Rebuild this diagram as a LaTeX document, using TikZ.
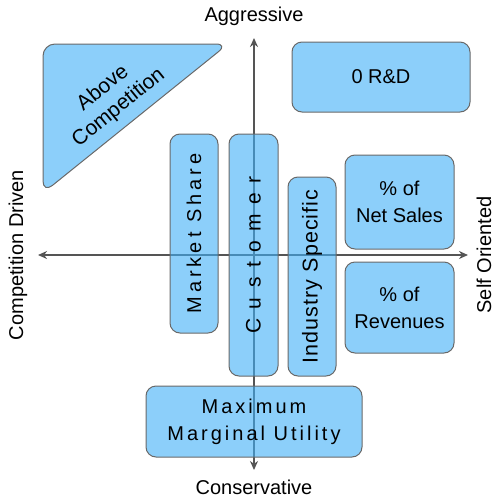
\documentclass[tikz,border=0pt]{standalone}
\usepackage{fontspec}
\setmainfont{Liberation Sans}
\newfontfamily\trackfont[LetterSpace=15]{Liberation Sans}
\newfontfamily\sharefont[LetterSpace=20]{Liberation Sans}
\newfontfamily\indfont[LetterSpace=5]{Liberation Sans}
\newfontfamily\widefont[LetterSpace=45]{Liberation Sans}
\usepackage{tikz}
\usetikzlibrary{arrows.meta}

\definecolor{boxblue}{RGB}{63,175,247}
\definecolor{axisgray}{RGB}{85,85,85}
\definecolor{edgegray}{RGB}{105,105,105}

\tikzset{
  box/.style = {draw = edgegray, line width = 1pt, fill = boxblue, fill opacity = 0.6, text opacity = 1,
                rounded corners = 10pt, inner sep = 0pt, align = center, font = \fontsize{20}{27}\selectfont},
  axis/.style = {draw = axisgray, line width = 1.8pt, {Stealth[length=9pt,width=8pt]}-{Stealth[length=9pt,width=8pt]}},
  axislabel/.style = {font = \fontsize{20}{24}\selectfont, inner sep = 0pt}
}

\begin{document}
\begin{tikzpicture}[x = 1pt, y = -1pt]
				\useasboundingbox (0,0) rectangle (495,499);
				% axes
				\coordinate (top) at (254,38);
				\coordinate (bottom) at (254,470);
				\coordinate (left) at (38,255);
				\coordinate (right) at (468,255);
				\draw [axis] (bottom) -- (top);
				\draw [axis] (left) -- (right);
				\node [axislabel] (aggr) at (254,16){Aggressive};
				\node [axislabel] (cons) at (254,487){Conservative};
				\node [axislabel, rotate = 90] (comp) at (18,255){Competition Driven};
				\node [axislabel, rotate = 90] (self) at (484,255){Self Oriented};
				% corner triangle
				\draw [box, rounded corners = 12pt] (43,44) -- (228,44) -- (43,193) -- cycle;
				\node [font = \fontsize{21}{25}\selectfont, align = center, rotate = 39] (above) at (111,98){Above\\Competition};
				% boxes
				\node [box, minimum width = 178pt, minimum height = 70pt] (rnd) at (381,77){0 R\&D};
				\node [box, rotate = 90, minimum width = 199pt, minimum height = 48pt] (share) at (194,233.5){\sharefont Market Share};
				\node [box, rotate = 90, minimum width = 242pt, minimum height = 49pt] (cust) at (253.5,255){\widefont\fontsize{21}{25}\selectfont Customer};
				\node [box, rotate = 90, minimum width = 199pt, minimum height = 48pt] (ind) at (312,276.5){\indfont\fontsize{21.5}{25}\selectfont Industry Specific};
				\node [box, minimum width = 109pt, minimum height = 94pt] (net) at (399.5,202){\% of\\Net Sales};
				\node [box, minimum width = 109pt, minimum height = 91pt] (rev) at (399.5,307.5){\% of\\Revenues};
				\node [box, minimum width = 216pt, minimum height = 71pt] (util) at (254,421.5){\trackfont Maximum\\\trackfont Marginal Utility};
\end{tikzpicture}
\end{document}
